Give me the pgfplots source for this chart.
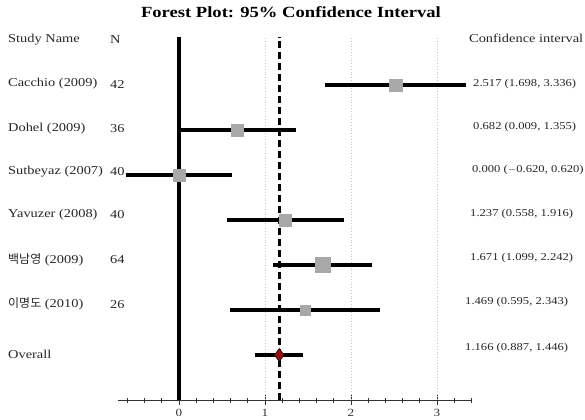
\documentclass[border=0pt]{standalone}
\usepackage{pgfplots}
\pgfplotsset{compat=1.18}
\usepackage{fontspec}
\setmainfont{Liberation Serif}[FakeStretch=1.2]
\newfontfamily\kr{Noto Sans CJK KR}
\definecolor{sqgray}{HTML}{A8A8A8}
\definecolor{dred}{HTML}{8E1010}
\begin{document}
\begin{tikzpicture}
\begin{axis}[
  x=86pt, y=45pt,
  xmin=-0.71, xmax=3.41, ymin=0, ymax=8.07,
  clip=false,
  axis y line=none,
  axis x line*=bottom,
  x axis line style={line width=0.7pt, black!80},
  xtick={0,1,2,3},
  minor xtick={-0.6,-0.4,-0.2,0.2,0.4,0.6,0.8,1.2,1.4,1.6,1.8,2.2,2.4,2.6,2.8,3.2,3.4},
  tick align=center,
  major tick length=10pt,
  minor tick length=5pt,
  tick style={black!80, line width=0.7pt},
  xticklabel style={font=\fontsize{11}{12}\selectfont, text=black!80, yshift=-1pt},
  /pgf/number format/assume math mode=true,
]
% grid lines
\addplot[gray!45, dotted, line width=0.8pt] coordinates {(1,0) (1,8.07)};
\addplot[gray!45, dotted, line width=0.8pt] coordinates {(2,0) (2,8.07)};
\addplot[gray!45, dotted, line width=0.8pt] coordinates {(3,0) (3,8.07)};
% zero line
\addplot[black, line width=3.2pt] coordinates {(0,0) (0,8.07)};
% CI lines
\addplot[black, line width=3.2pt] coordinates {(1.698,7) (3.336,7)};
\addplot[black, line width=3.2pt] coordinates {(0.009,6) (1.355,6)};
\addplot[black, line width=3.2pt] coordinates {(-0.620,5) (0.620,5)};
\addplot[black, line width=3.2pt] coordinates {(0.558,4) (1.916,4)};
\addplot[black, line width=3.2pt] coordinates {(1.099,3) (2.242,3)};
\addplot[black, line width=3.2pt] coordinates {(0.595,2) (2.343,2)};
\addplot[black, line width=3.2pt] coordinates {(0.887,1) (1.446,1)};
% overall dashed line
\addplot[black, line width=3.2pt, dash pattern=on 7pt off 4pt] coordinates {(1.166,0) (1.166,8.07)};
% squares
\addplot[only marks, mark=square*, mark size=6.3pt, color=sqgray] coordinates {(2.517,7)};
\addplot[only marks, mark=square*, mark size=6pt, color=sqgray] coordinates {(0.682,6)};
\addplot[only marks, mark=square*, mark size=6pt, color=sqgray] coordinates {(0.000,5)};
\addplot[only marks, mark=square*, mark size=6pt, color=sqgray] coordinates {(1.237,4)};
\addplot[only marks, mark=square*, mark size=7.5pt, color=sqgray] coordinates {(1.671,3)};
\addplot[only marks, mark=square*, mark size=5.2pt, color=sqgray] coordinates {(1.469,2)};
% diamond
\addplot[only marks, mark=diamond*, mark size=6.5pt, mark options={fill=dred, draw=black!70!dred, line width=0.6pt}] coordinates {(1.166,1)};
% texts
\node[font=\bfseries\fontsize{15.5}{17}\selectfont] at (axis cs:1.302,8.62) {Forest Plot: 95\% Confidence Interval};
\begin{scope}[every node/.style={anchor=west, inner sep=0pt, font=\fontsize{12}{14}\selectfont, text=black!85}]
\node at (axis cs:-1.988,8.0) {Study Name};
\node at (axis cs:-0.802,8.0) {N};
\node at (axis cs:-1.988,7.02) {Cacchio (2009)};
\node at (axis cs:-1.988,6.04) {Dohel (2009)};
\node at (axis cs:-1.988,5.07) {Sutbeyaz (2007)};
\node at (axis cs:-1.988,4.13) {Yavuzer (2008)};
\node at (axis cs:-1.988,3.11) {{\kr 백남영} (2009)};
\node at (axis cs:-1.988,2.13) {{\kr 이명도} (2010)};
\node at (axis cs:-1.988,1.02) {Overall};
\node at (axis cs:-0.802,7.02) {42};
\node at (axis cs:-0.802,6.04) {36};
\node at (axis cs:-0.802,5.07) {40};
\node at (axis cs:-0.802,4.13) {40};
\node at (axis cs:-0.802,3.11) {64};
\node at (axis cs:-0.802,2.13) {26};
\node at (axis cs:3.372,8.04) {Confidence interval};
\end{scope}
\begin{scope}[every node/.style={anchor=west, inner sep=0pt, font=\fontsize{10.5}{12}\selectfont, text=black!85}]
\node at (axis cs:3.419,7.02) {2.517 (1.698, 3.336)};
\node at (axis cs:3.419,6.07) {0.682 (0.009, 1.355)};
\node at (axis cs:3.407,5.11) {0.000 ($-$0.620, 0.620)};
\node at (axis cs:3.384,4.13) {1.237 (0.558, 1.916)};
\node at (axis cs:3.384,3.16) {1.671 (1.099, 2.242)};
\node at (axis cs:3.326,2.18) {1.469 (0.595, 2.343)};
\node at (axis cs:3.326,1.16) {1.166 (0.887, 1.446)};
\end{scope}
\coordinate (bl) at (axis cs:-2.081,-0.444);
\coordinate (tr) at (axis cs:4.721,8.889);
\end{axis}
\pgfresetboundingbox
\path[use as bounding box] (bl) rectangle (tr);
\end{tikzpicture}
\end{document}
